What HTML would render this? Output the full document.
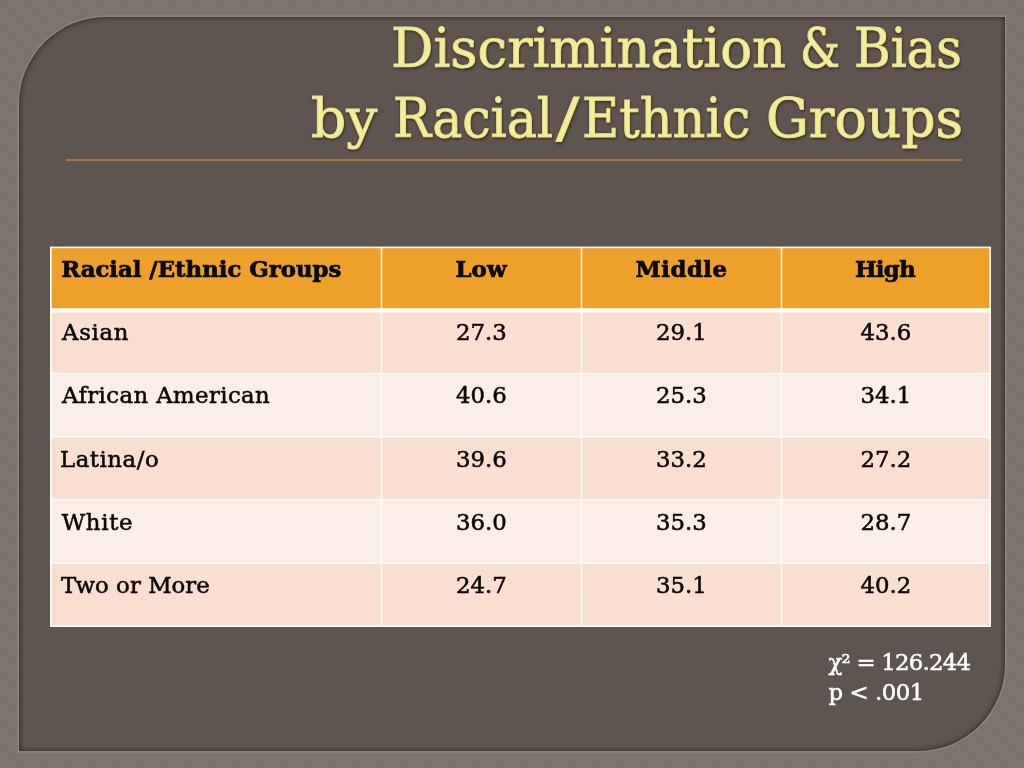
<!DOCTYPE html>
<html lang="en">
<head>
<meta charset="utf-8">
<title>Discrimination &amp; Bias by Racial/Ethnic Groups</title>
<style>
html,body{margin:0;padding:0;}
body{width:1024px;height:768px;overflow:hidden;position:relative;background-color:#82776f;
 font-family:"DejaVu Serif","Liberation Serif",serif;}
#bgpat{position:absolute;left:0;top:0;width:1024px;height:768px;}
#panel{position:absolute;left:19px;top:17px;width:985.5px;height:733.5px;box-sizing:border-box;
 background:#5e5550;border-radius:87px 0 87px 0;
 box-shadow:0 0 0 1.5px #8f857f, inset 0 0 5px 1px rgba(40,30,26,.75);}
.tl{position:absolute;left:0;width:1024px;margin:0;font-weight:normal;white-space:nowrap;color:#f3ec9a;font-size:55px;line-height:70px;height:70px;
 -webkit-text-stroke:1px #e9e28e;
 text-shadow:1px 1px 1px rgba(80,70,28,.95),0 0 3px rgba(35,28,18,.55),1px 2px 3px rgba(25,20,15,.55);}
#t1{top:12.5px;}
#t2{top:82.5px;}
.tl span{position:relative;display:inline-block;transform-origin:0 50%;}
#rule{position:absolute;left:65.5px;top:158px;width:896.5px;height:4px;background:linear-gradient(to bottom,rgba(122,82,48,0) 0,rgba(128,88,52,.9) 22%,#a88356 42%,#a88356 58%,rgba(128,88,52,.9) 78%,rgba(122,82,48,0) 100%);}
#tbl{position:absolute;left:0;top:0;}
#grid{position:absolute;left:50px;top:247px;width:941px;border-collapse:collapse;border-spacing:0;table-layout:fixed;
 font-size:22.8px;line-height:30px;color:#0a0806;white-space:nowrap;-webkit-text-stroke:.55px #0a0806;}
#grid th,#grid td{height:63px;box-sizing:border-box;padding:7.2px 0 0 0;vertical-align:top;text-align:center;font-weight:normal;border:0;overflow:visible;}
#grid th{font-weight:bold;-webkit-text-stroke:.7px #0a0806;}
#grid th:first-child,#grid td:first-child{text-align:left;padding-left:11.5px;}
#grid tr.r2 td{padding-top:7.45px;}
#grid tr.r3 td,#grid tr.r4 td,#grid tr.r5 td{padding-top:7.5px;}
#grid span{position:relative;display:inline-block;}
#note{position:absolute;left:828.5px;top:646.7px;color:#fff;font-size:22.8px;line-height:30px;white-space:nowrap;-webkit-text-stroke:.5px #fff;}
#n1{letter-spacing:-.75px;}#n2{letter-spacing:-.45px;}
</style>
</head>
<body>
<svg id="bgpat" width="1024" height="768"><defs><pattern id="wv" width="3" height="3" patternUnits="userSpaceOnUse"><rect width="3" height="3" fill="#897e76"/><rect width="1.5" height="1.5" fill="#72675f"/><rect x="1.5" y="1.5" width="1.5" height="1.5" fill="#73685f"/></pattern></defs><rect width="1024" height="768" fill="url(#wv)"/></svg>
<div id="panel"></div>
<h1 class="tl" id="t1"><span style="left:391.08px;transform:scaleX(0.9620)">Discrimination</span> <span style="left:371.28px;transform:scaleX(0.8182)">&amp;</span> <span style="left:359.72px;transform:scaleX(0.9065)">Bias</span></h1>
<h1 class="tl" id="t2"><span style="left:311.00px;transform:scaleX(1.0000)">by</span> <span style="left:309.39px;transform:scaleX(0.9181)">Racial</span><span style="left:298.23px;transform:scaleX(1.2500)">/</span><span style="left:305.35px;transform:scaleX(0.9270)">Ethnic</span> <span style="left:290.02px;transform:scaleX(0.9747)">Groups</span></h1>
<div id="rule"></div>
<svg id="tbl" width="1024" height="768" viewBox="0 0 1024 768">
<rect x="50" y="246.6" width="941" height="380.4" fill="#fffdf8"/>
<rect x="51.60" y="248.20" width="329.15" height="60.00" fill="#eda12b"/>
<rect x="382.25" y="248.20" width="198.50" height="60.00" fill="#eda12b"/>
<rect x="582.25" y="248.20" width="198.50" height="60.00" fill="#eda12b"/>
<rect x="782.25" y="248.20" width="207.25" height="60.00" fill="#eda12b"/>
<rect x="51.60" y="312.60" width="329.15" height="60.25" fill="#f8dfcf"/>
<rect x="382.25" y="312.60" width="198.50" height="60.25" fill="#f8dfcf"/>
<rect x="582.25" y="312.60" width="198.50" height="60.25" fill="#f8dfcf"/>
<rect x="782.25" y="312.60" width="207.25" height="60.25" fill="#f8dfcf"/>
<rect x="51.60" y="374.35" width="329.15" height="61.60" fill="#fbeee7"/>
<rect x="382.25" y="374.35" width="198.50" height="61.60" fill="#fbeee7"/>
<rect x="582.25" y="374.35" width="198.50" height="61.60" fill="#fbeee7"/>
<rect x="782.25" y="374.35" width="207.25" height="61.60" fill="#fbeee7"/>
<rect x="51.60" y="437.45" width="329.15" height="61.40" fill="#f8dfcf"/>
<rect x="382.25" y="437.45" width="198.50" height="61.40" fill="#f8dfcf"/>
<rect x="582.25" y="437.45" width="198.50" height="61.40" fill="#f8dfcf"/>
<rect x="782.25" y="437.45" width="207.25" height="61.40" fill="#f8dfcf"/>
<rect x="51.60" y="500.35" width="329.15" height="61.90" fill="#fbeee7"/>
<rect x="382.25" y="500.35" width="198.50" height="61.90" fill="#fbeee7"/>
<rect x="582.25" y="500.35" width="198.50" height="61.90" fill="#fbeee7"/>
<rect x="782.25" y="500.35" width="207.25" height="61.90" fill="#fbeee7"/>
<rect x="51.60" y="563.75" width="329.15" height="61.85" fill="#f8dfcf"/>
<rect x="382.25" y="563.75" width="198.50" height="61.85" fill="#f8dfcf"/>
<rect x="582.25" y="563.75" width="198.50" height="61.85" fill="#f8dfcf"/>
<rect x="782.25" y="563.75" width="207.25" height="61.85" fill="#f8dfcf"/>
</svg>
<table id="grid"><colgroup><col style="width:331.5px"><col style="width:200px"><col style="width:200px"><col style="width:209.5px"></colgroup>
<thead><tr><th><span style="left:-0.30px;">Racial /Ethnic Groups</span></th><th><span style="letter-spacing:0.15px;left:-0.42px;">Low</span></th><th><span style="letter-spacing:0.50px;left:0.05px;">Middle</span></th><th><span style="letter-spacing:-0.65px;left:-1.23px;">High</span></th></tr></thead>
<tbody><tr class="r1"><td><span style="letter-spacing:0.70px;left:0.50px;">Asian</span></td><td><span>27.3</span></td><td><span>29.1</span></td><td><span style="left:-0.25px;">43.6</span></td></tr>
<tr class="r2"><td><span style="letter-spacing:0.40px;left:0.50px;">African American</span></td><td><span>40.6</span></td><td><span>25.3</span></td><td><span style="left:-0.25px;">34.1</span></td></tr>
<tr class="r3"><td><span style="letter-spacing:0.54px;left:-1.50px;">Latina/o</span></td><td><span>39.6</span></td><td><span>33.2</span></td><td><span style="left:-0.25px;">27.2</span></td></tr>
<tr class="r4"><td><span style="letter-spacing:0.70px;left:0.20px;">White</span></td><td><span>36.0</span></td><td><span>35.3</span></td><td><span style="left:-0.25px;">28.7</span></td></tr>
<tr class="r5"><td><span style="letter-spacing:0.06px;left:-0.50px;">Two or More</span></td><td><span>24.7</span></td><td><span>35.1</span></td><td><span style="left:-0.25px;">40.2</span></td></tr></tbody>
</table>
<div id="note"><span id="n1">χ² = 126.244</span><br><span id="n2">p &lt; .001</span></div>
</body>
</html>
